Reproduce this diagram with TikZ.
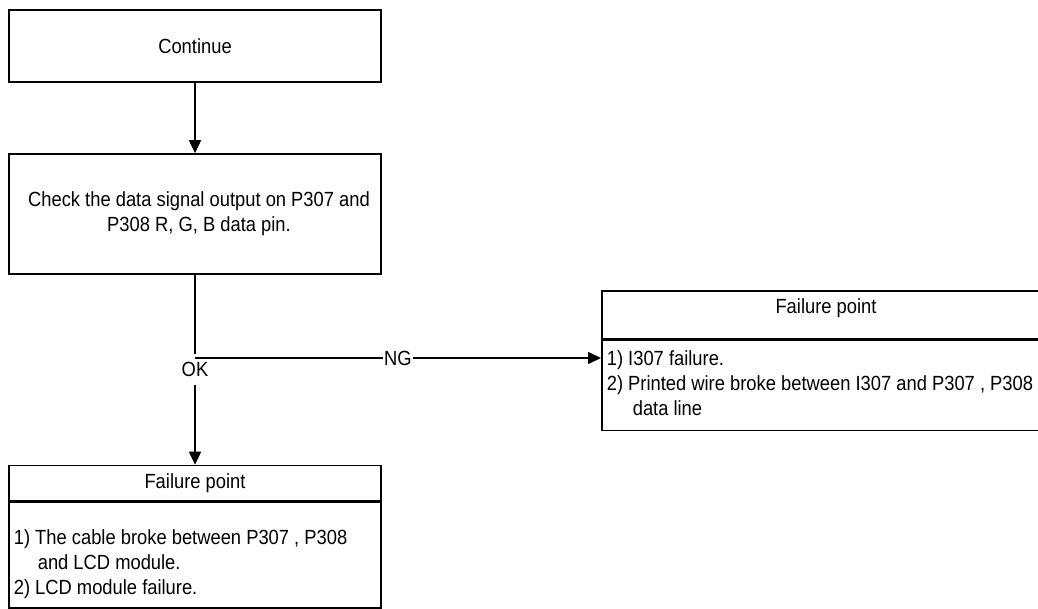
\documentclass[tikz,border=0pt]{standalone}
\usepackage{fontspec}
\setmainfont[FakeStretch=0.895]{Liberation Sans}
\usetikzlibrary{arrows.meta}

\begin{document}
\begin{tikzpicture}[x=1pt,y=-1pt,line width=1.6pt,>={Triangle[length=13pt,width=12pt]},
  every node/.style={font=\fontsize{20.5}{25}\selectfont},
  box/.style={draw,minimum width=372pt,inner sep=0pt,align=center},
  lbl/.style={fill=white,inner xsep=1.5pt,inner ysep=8pt},
  txt/.style={anchor=north west,align=left,inner sep=0pt}]
 \clip (0,0) rectangle (1038,608);
 % main column
 \node[box,minimum height=72pt] (cont) at (195,46) {Continue};
 \node[box,minimum height=120pt] (check) at (195,214) {\hspace*{8pt}Check the data signal output on P307 and\\\hspace*{8pt}P308 R, G, B data pin.};
 \node[box,minimum height=35pt] (okhead) at (195,483) {Failure point};
 \node[box,minimum height=106pt,anchor=north] (okbody) at (okhead.south) {};
 \node[txt] (oktxt) at (13,529) {1) The cable broke between P307 , P308\\\hspace*{24pt}and LCD module.\\2) LCD module failure.};
 % NG branch
 \node[box,minimum width=450pt,minimum height=48pt,anchor=north west] (nghead) at (601,290) {};
 \node[anchor=base,inner sep=0pt] (ngtitle) at (826,313) {Failure point};
 \node[box,minimum width=450pt,minimum height=90pt,anchor=north] (ngbody) at (nghead.south) {};
 \node[txt] (ngtxt) at (606,350) {1) I307 failure.\\2) Printed wire broke between I307 and P307 , P308\\\hspace*{26pt}data line};
 \coordinate (branch) at (195,358);
 \draw[->] (cont) -- (check);
 \draw[->] (check) -- node[lbl]{OK} (okhead);
 \draw[->] (branch) -- node[lbl]{NG} (branch -| ngbody.west);
\end{tikzpicture}
\end{document}
